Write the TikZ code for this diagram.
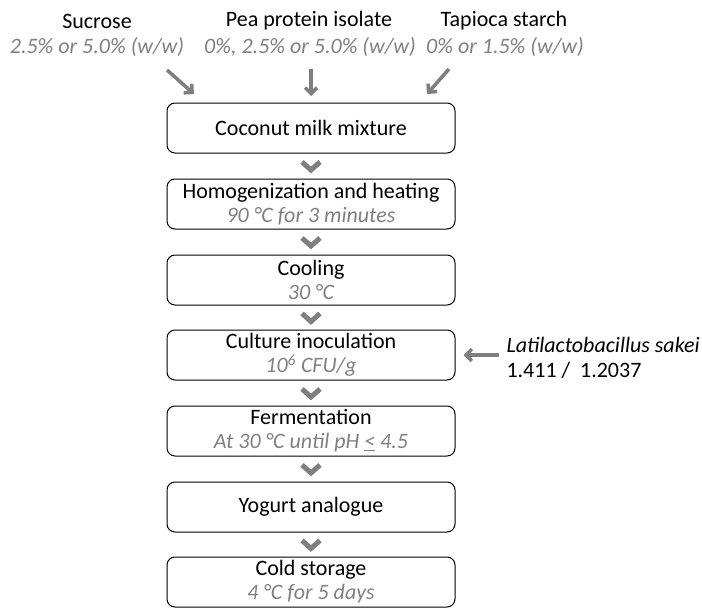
\documentclass[tikz,border=0pt]{standalone}
\usepackage{fontspec}
\setmainfont{Carlito}
\usepackage{tikz}
\usetikzlibrary{arrows.meta,calc}
\definecolor{txtgray}{RGB}{128,128,128}
\definecolor{arrgray}{RGB}{127,127,127}
\tikzset{
  stepbox/.style={draw, rounded corners=8pt, line width=1pt, minimum width=288pt, minimum height=50pt, inner sep=0pt, align=center, font=\fontsize{22}{24}\selectfont},
  sub/.style={text=txtgray, font=\fontsize{22}{24}\selectfont\itshape},
  lbl/.style={font=\fontsize{22}{24}\selectfont},
  feed/.style={arrgray, line width=3.5pt, -{Straight Barb[length=6pt,width=12pt]}},
  chev/.style={arrgray, line width=5pt}
}

\begin{document}
\begin{tikzpicture}[x=1pt,y=-1pt]
\useasboundingbox (0,0) rectangle (702,608);
% ingredients
\node[lbl] (sucName) at (97,21) {Sucrose};
\node[lbl] (peaName) at (309,21) {Pea protein isolate};
\node[lbl] (tapName) at (504,21) {Tapioca starch};
\node[sub] (sucVal) at (97,47) {2.5\% or 5.0\% (w/w)};
\node[sub] (peaVal) at (310,47) {0\%, 2.5\% or 5.0\% (w/w)};
\node[sub] (tapVal) at (505,47) {0\% or 1.5\% (w/w)};
% process steps
\node[stepbox] (mix)   at (311,128) {Coconut milk mixture};
\node[stepbox] (heat)  at (311,204) {Homogenization and heating\\ \textcolor{txtgray}{\itshape 90 °C for 3 minutes}};
\node[stepbox] (cool)  at (311,280) {Cooling\\ \textcolor{txtgray}{\itshape 30 °C}};
\node[stepbox] (inoc)  at (311,355) {Culture inoculation\\ \textcolor{txtgray}{\itshape 10\textsuperscript{6} CFU/g}};
\node[stepbox] (ferm)  at (311,431) {Fermentation\\ \textcolor{txtgray}{\itshape At 30 °C until pH \underline{<} 4.5}};
\node[stepbox] (yog)   at (311,507) {Yogurt analogue};
\node[stepbox] (store) at (311,582) {Cold storage\\ \textcolor{txtgray}{\itshape 4 °C for 5 days}};
% culture
\node[lbl, align=left, anchor=west, font=\fontsize{22}{25}\selectfont] (bact) at (503,358) {\textit{Latilactobacillus sakei}\\ 1.411 /~~1.2037};
% arrows into the mixture
\coordinate (sucFrom) at (167,70);  \coordinate (sucTo) at (194,94);
\coordinate (peaFrom) at (311,69);  \coordinate (peaTo) at (311,96);
\coordinate (tapFrom) at (449,69);  \coordinate (tapTo) at (427,94);
\draw[feed] (sucFrom) -- (sucTo);
\draw[feed] (peaFrom) -- (peaTo);
\draw[feed] (tapFrom) -- (tapTo);
\draw[feed, shorten <=4pt, shorten >=8pt] (bact.west |- inoc.east) -- (inoc.east);
% chevrons between steps
\foreach \a/\b in {mix/heat, heat/cool, cool/inoc, inoc/ferm, ferm/yog, yog/store}
  \draw[chev] ($(\a.south)!0.5!(\b.north)$) +(-9,-4) -- +(0,4) -- +(9,-4);
\end{tikzpicture}
\end{document}
